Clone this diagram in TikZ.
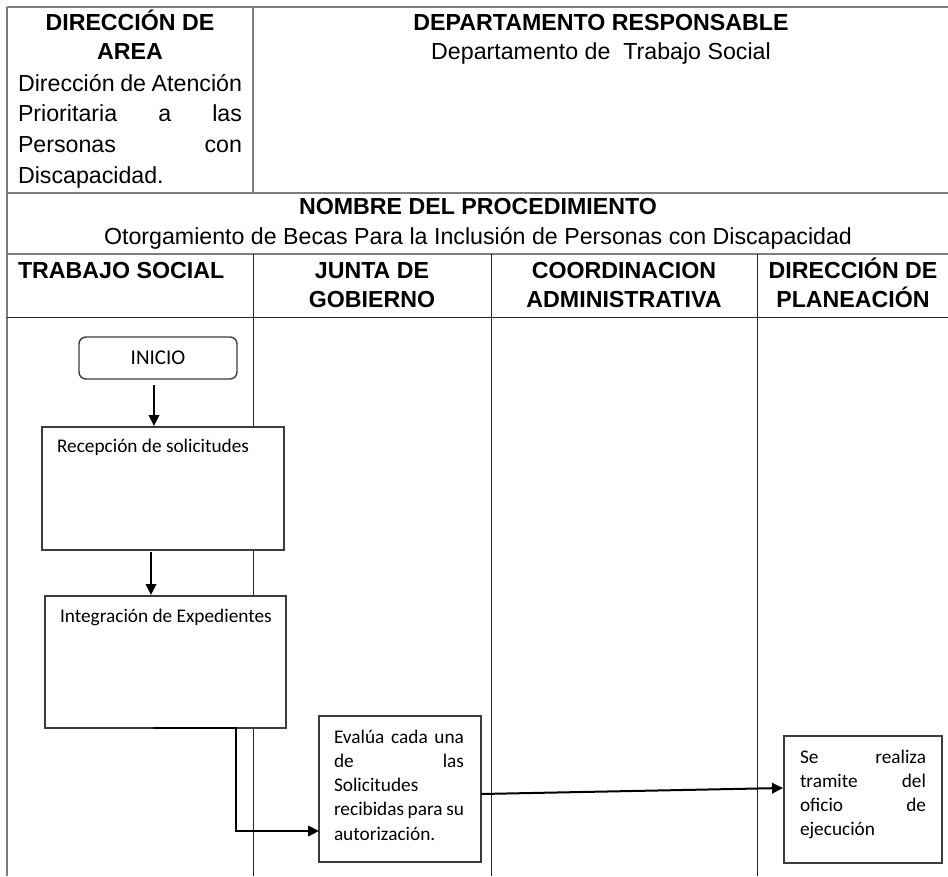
\documentclass[tikz,border=0pt]{standalone}
\usepackage{fontspec}
\setmainfont{Liberation Sans}
\newfontfamily\calfont{Carlito}
\usetikzlibrary{arrows.meta}
\definecolor{tgray}{RGB}{125,125,125}
\definecolor{boxgray}{RGB}{60,60,60}
\newcommand\arsz{\fontsize{23.2pt}{30.7pt}\selectfont}
\newcommand\arbsz{\fontsize{23.2pt}{29.3pt}\selectfont\bfseries}
\newcommand\calsz{\calfont\fontsize{19.3pt}{24.3pt}\selectfont}
\newcommand\calbig{\calfont\fontsize{21pt}{25pt}\selectfont}
\begin{document}
\begin{tikzpicture}[x=1pt,y=-1pt,
  tline/.style={draw=tgray,line width=1.6pt},
  lane/.style={draw=black!85,line width=1pt},
  txt/.style={inner sep=0pt,outer sep=0pt},
  procbox/.style={draw=boxgray,line width=1.4pt,fill=white,inner sep=0pt,outer sep=0pt,anchor=north west},
  startbox/.style={draw=boxgray,line width=1.4pt,fill=white,rounded corners=7pt,inner sep=0pt,outer sep=0pt,anchor=north west,minimum width=158pt,minimum height=42pt,font=\calbig},
  arr/.style={draw=black,line width=2pt,-{Triangle[length=11pt,width=10.5pt]}}]
\fill[white] (0,0) rectangle (948,876);
\useasboundingbox (0,0) rectangle (948,876);

% table lines
\draw[tline] (7,7) -- (948,7);
\draw[tline] (7,7) -- (7,876);
\draw[tline] (253,7) -- (253,193);
\draw[tline] (7,193) -- (948,193);
\draw[tline] (7,254) -- (948,254);
\draw[lane] (7,317) -- (948,317);
\draw[lane] (253,254) -- (253,876);
\draw[lane] (491,254) -- (491,876);
\draw[lane] (757,254) -- (757,876);

% header texts
\node[txt,anchor=base] (dirarea) at (130,30) {\parbox[t]{230pt}{\centering\arbsz DIRECCIÓN DE\\AREA}};
\node[txt,anchor=base west] (dirname) at (18,91) {\parbox[t]{224pt}{\arsz Dirección~de~Atención\linebreak Prioritaria~a~las\linebreak Personas~con\linebreak Discapacidad.}};
\node[txt,anchor=base] (deptitle) at (601,30) {\parbox[t]{600pt}{\centering\arbsz DEPARTAMENTO RESPONSABLE\\[0.2pt]{\mdseries Departamento de\ \ Trabajo Social}}};
\node[txt,anchor=base] (proctitle) at (478,214.5) {\parbox[t]{900pt}{\centering\arbsz NOMBRE DEL PROCEDIMIENTO\\[0.7pt]{\mdseries Otorgamiento de Becas Para la Inclusión de Personas con Discapacidad}}};
\node[txt,anchor=base west] (lanets) at (18,278) {\arbsz TRABAJO SOCIAL};
\node[txt,anchor=base] (lanejg) at (372,278) {\parbox[t]{236pt}{\centering\arbsz JUNTA DE\\GOBIERNO}};
\node[txt,anchor=base] (laneca) at (624,278) {\parbox[t]{264pt}{\centering\arbsz COORDINACION\\ADMINISTRATIVA}};
\node[txt,anchor=base] (lanedp) at (853,278) {\parbox[t]{190pt}{\centering\arbsz DIRECCIÓN DE\\PLANEACIÓN}};

% flow nodes
\node[startbox] (inicio) at (79,337) {INICIO};
\node[procbox] (recep) at (42,427) {\parbox[c][123pt][t]{242pt}{\calsz\leftskip=15pt\rule{0pt}{25.5pt}Recepción de solicitudes}};
\node[procbox] (integ) at (45,596) {\parbox[c][132pt][t]{241pt}{\calsz\leftskip=15pt\rule{0pt}{26pt}Integración de Expedientes}};
\node[procbox] (evalua) at (319,716) {\parbox[c][146pt][t]{162pt}{\calsz\leftskip=15pt\rightskip=17pt\rule{0pt}{27pt}Evalúa~cada~una\linebreak de~las\linebreak Solicitudes\\ recibidas~para~su\linebreak autorización.}};
\node[procbox] (oficio) at (784,736) {\parbox[c][127pt][t]{158pt}{\calsz\leftskip=16pt\rightskip=16pt\rule{0pt}{27pt}Se~realiza\linebreak tramite~del\linebreak oficio~de\linebreak ejecución}};

% connectors
\draw[arr] ([xshift=-4pt,yshift=-6pt]inicio.south) -- ++(0,41);
\draw[arr] ([xshift=-12pt,yshift=-2pt]recep.south) -- ++(0,43);
\draw[arr,line width=2.5pt] ([xshift=-12.5pt]integ.south) -- ++(83,0) |- ([yshift=-42pt]evalua.west);
\draw[arr] ([yshift=-5pt]evalua.east) -- ([yshift=11.5pt,xshift=-1pt]oficio.west);
\end{tikzpicture}
\end{document}
